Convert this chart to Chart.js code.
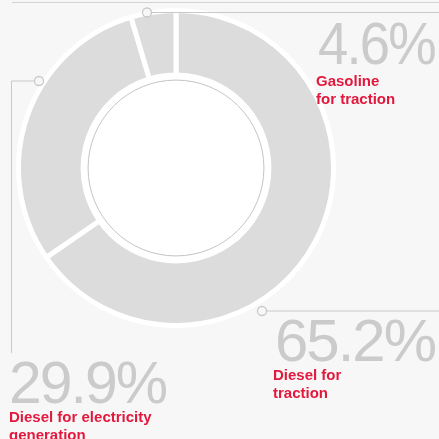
<!DOCTYPE html>
<html>
<head>
<meta charset="utf-8">
<script src="https://cdn.jsdelivr.net/npm/chart.js@4"></script>
<style>
  html, body { margin: 0; padding: 0; background: #f7f7f7; }
  #wrap { width: 439px; height: 439px; position: relative; overflow: hidden; }
</style>
</head>
<body>
<div id="wrap"><canvas id="fuel" width="439" height="439"></canvas></div>
<script>
// Fuel consumption split, clockwise from 12 o'clock
const categories = ['Diesel for traction', 'Diesel for electricity generation', 'Gasoline for traction'];
const shares = [65.2, 29.9, 4.6];
// Label lines as printed beside each segment
const labelLines = [['Diesel for', 'traction'], ['Diesel for electricity', 'generation'], ['Gasoline', 'for traction']];

const RING = '#dcdcdd';
const LINE = '#c9c9c9';
const VALUE = '#cbcbcb';
const RED = '#e2183d';

// Callout layout: leader dot, leader path, value text [x, baseline, width], label origin
const callouts = [
  { dot: [262, 311], path: [[266.5, 311], [439, 311]], value: [275, 361, 160], label: [273, 380] },
  { dot: [39, 81], path: [[34.5, 81], [11.5, 81], [11.5, 353]], value: [9, 403, 157], label: [9, 422] },
  { dot: [147, 12.5], path: [[151.5, 12.5], [439, 12.5]], value: [318, 64, 117], label: [316, 86] }
];

const decor = {
  id: 'decor',
  beforeDatasetsDraw(chart) {
    const ctx = chart.ctx;
    const arc = chart.getDatasetMeta(0).data[0];
    ctx.save();
    // white hole
    ctx.fillStyle = '#ffffff';
    ctx.beginPath();
    ctx.arc(arc.x, arc.y, arc.innerRadius + 2, 0, Math.PI * 2);
    ctx.fill();
    // top rule
    ctx.strokeStyle = '#d3d3d3';
    ctx.lineWidth = 1;
    ctx.beginPath();
    ctx.moveTo(12, 2.5);
    ctx.lineTo(439, 2.5);
    ctx.stroke();
    ctx.restore();
  },
  afterDatasetsDraw(chart) {
    const ctx = chart.ctx;
    const arc = chart.getDatasetMeta(0).data[0];
    ctx.save();
    // thin ring inside the hole
    ctx.strokeStyle = '#c4c4c4';
    ctx.lineWidth = 1;
    ctx.beginPath();
    ctx.arc(arc.x, arc.y, arc.innerRadius - 5, 0, Math.PI * 2);
    ctx.stroke();

    callouts.forEach((c, i) => {
      // leader
      ctx.strokeStyle = LINE;
      ctx.lineWidth = 1;
      ctx.beginPath();
      c.path.forEach((p, k) => k ? ctx.lineTo(p[0], p[1]) : ctx.moveTo(p[0], p[1]));
      ctx.stroke();
      ctx.fillStyle = '#f7f7f7';
      ctx.lineWidth = 1.3;
      ctx.beginPath();
      ctx.arc(c.dot[0], c.dot[1], 4.5, 0, Math.PI * 2);
      ctx.fill();
      ctx.stroke();

      // value: tight tracking, fitted to its column width
      const txt = shares[i].toFixed(1) + '%';
      ctx.font = 'normal 400 60px "Liberation Sans", Arial, sans-serif';
      ctx.textBaseline = 'alphabetic';
      ctx.textAlign = 'left';
      ctx.letterSpacing = '-2px';
      const w = ctx.measureText(txt).width;
      const sx = c.value[2] / w;
      ctx.save();
      ctx.translate(c.value[0], c.value[1]);
      ctx.scale(sx, 1);
      ctx.fillStyle = VALUE;
      ctx.fillText(txt, 0, 0);
      ctx.restore();
      ctx.letterSpacing = '0px';

      // label
      ctx.font = 'bold 15px "Liberation Sans", Arial, sans-serif';
      ctx.fillStyle = RED;
      labelLines[i].forEach((line, k) => ctx.fillText(line, c.label[0], c.label[1] + k * 17.5));
    });
    ctx.restore();
  }
};

new Chart(document.getElementById('fuel'), {
  type: 'doughnut',
  data: {
    labels: categories,
    datasets: [{
      data: shares,
      backgroundColor: RING,
      borderColor: '#ffffff',
      borderWidth: 5,
      hoverOffset: 0
    }]
  },
  options: {
    responsive: false,
    animation: false,
    cutout: '59%',
    rotation: 0,
    layout: { padding: { left: 16, top: 8, right: 103, bottom: 111 } },
    events: [],
    plugins: { legend: { display: false }, tooltip: { enabled: false } }
  },
  plugins: [decor]
});
</script>
</body>
</html>
